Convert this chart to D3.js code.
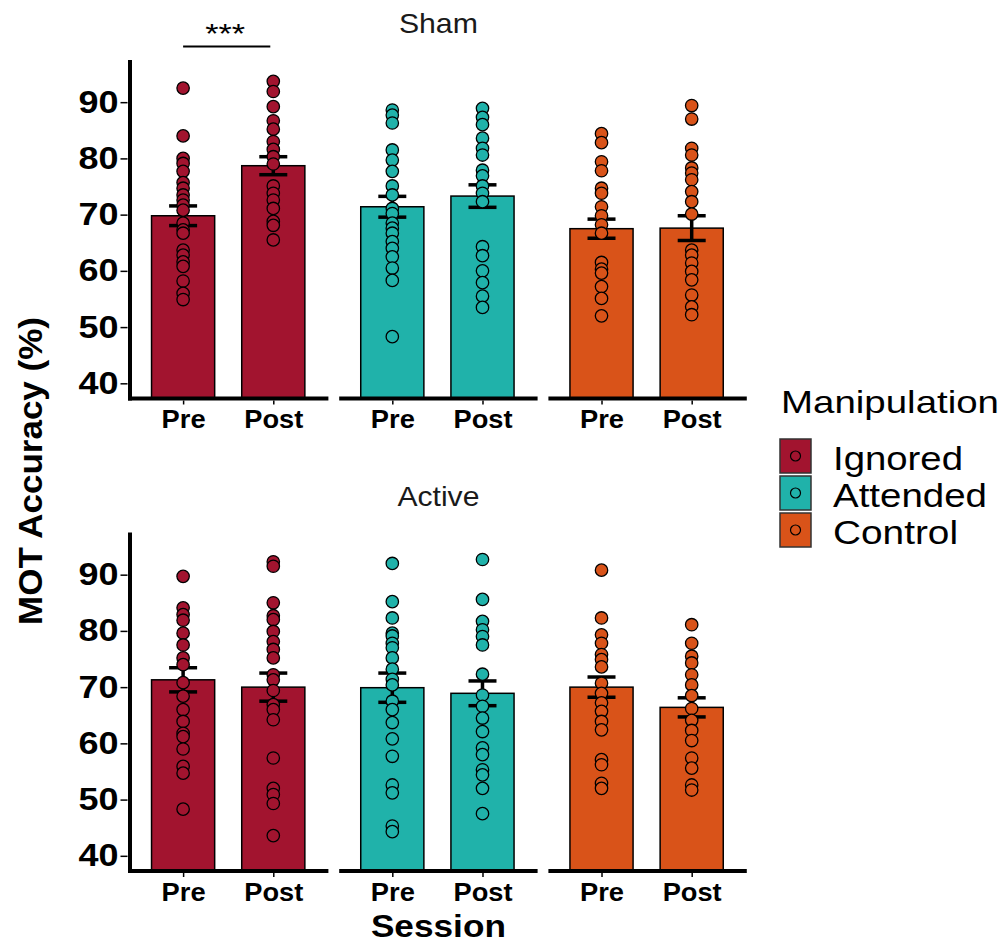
<!DOCTYPE html>
<html>
<head>
<meta charset="utf-8">
<script src="https://cdn.jsdelivr.net/npm/d3@7"></script>
<style>
  html, body { margin: 0; padding: 0; background: #fff; }
  svg { display: block; font-family: "Liberation Sans", Arial, sans-serif; }
</style>
</head>
<body>
<svg id="chart" width="1005" height="943"></svg>
<script>
// ---------------- data ----------------
const conditions = ["Sham", "Active"];
const manipulations = ["Ignored", "Attended", "Control"];
const sessions = ["Pre", "Post"];
const yTicks = [40, 50, 60, 70, 80, 90];
const colors = ["#A2142F", "#20B2AA", "#D95319"];

// bar means and standard errors, order: Ignored Pre/Post, Attended Pre/Post, Control Pre/Post
const shamMeans = [69.8, 78.7, 71.4, 73.3, 67.5, 67.6];
const shamSE = [1.75, 1.6, 1.85, 2.0, 1.7, 2.2];
const activeMeans = [71.3, 70.0, 69.9, 68.9, 70.0, 66.4];
const activeSE = [2.15, 2.5, 2.6, 2.2, 1.8, 1.7];

// individual participants
const shamIgnoredPre = [92.5, 84.0, 80.0, 79.1, 77.7, 75.7, 74.7, 73.5, 72.6, 71.7, 70.8, 68.5, 67.3, 66.7, 63.7, 62.8, 61.6, 60.8, 58.2, 56.0, 54.9];
const shamIgnoredPost = [93.7, 91.9, 89.2, 86.7, 85.2, 83.0, 81.6, 80.3, 79.0, 75.1, 73.8, 72.6, 71.1, 68.8, 68.1, 65.5];
const shamAttendedPre = [88.6, 87.7, 86.3, 81.5, 79.7, 77.7, 75.1, 73.5, 71.1, 70.2, 68.5, 67.6, 66.7, 65.2, 64.0, 62.5, 60.5, 58.3, 48.3];
const shamAttendedPost = [88.9, 87.3, 86.0, 83.6, 81.8, 80.6, 77.9, 76.9, 75.1, 73.8, 72.3, 64.3, 62.7, 60.0, 57.9, 55.5, 53.5];
const shamControlPre = [84.4, 82.8, 79.4, 77.8, 74.7, 73.8, 71.4, 69.8, 68.2, 66.7, 61.5, 60.3, 59.6, 57.2, 55.1, 52.0];
const shamControlPost = [89.4, 87.0, 81.8, 80.6, 78.3, 77.4, 76.2, 74.1, 72.3, 70.1, 63.7, 62.8, 61.4, 59.9, 58.4, 55.7, 53.6, 52.2];
const activeIgnoredPre = [89.7, 84.1, 82.9, 81.9, 79.6, 77.5, 75.2, 74.0, 70.8, 68.4, 66.0, 63.9, 61.8, 61.2, 59.0, 55.9, 54.7, 48.3];
const activeIgnoredPost = [92.3, 91.5, 85.0, 82.7, 82.0, 79.9, 78.1, 76.7, 75.2, 72.2, 71.3, 69.4, 66.9, 66.0, 64.2, 57.4, 52.0, 50.9, 49.3, 43.6];
const activeAttendedPre = [92.0, 85.2, 82.3, 79.6, 79.1, 77.8, 77.0, 75.2, 73.2, 71.4, 70.4, 67.5, 66.0, 63.7, 60.8, 57.7, 52.6, 51.2, 45.3, 44.3];
const activeAttendedPost = [92.7, 85.6, 81.7, 80.2, 79.0, 77.5, 72.3, 68.6, 66.6, 64.5, 62.1, 59.2, 58.0, 55.3, 54.4, 52.0, 47.5];
const activeControlPre = [90.8, 82.3, 79.3, 77.8, 75.8, 74.9, 73.6, 70.7, 68.9, 67.2, 65.7, 63.9, 62.4, 57.1, 56.2, 52.9, 52.0];
const activeControlPost = [81.1, 77.8, 75.5, 74.3, 72.2, 70.4, 68.5, 66.2, 64.1, 62.3, 60.5, 57.4, 55.6, 52.6, 51.7];

const yTitle = "MOT Accuracy (%)";
const xTitle = "Session";
const legendTitle = "Manipulation";
const sigLabel = "***";

// ---------------- assemble ----------------
const pointSets = {
  Sham: [[shamIgnoredPre, shamIgnoredPost], [shamAttendedPre, shamAttendedPost], [shamControlPre, shamControlPost]],
  Active: [[activeIgnoredPre, activeIgnoredPost], [activeAttendedPre, activeAttendedPost], [activeControlPre, activeControlPost]]
};
const meanSets = { Sham: [shamMeans, shamSE], Active: [activeMeans, activeSE] };

// ---------------- layout ----------------
const svg = d3.select("#chart");
const panelW = 198.4;
const panelStarts = [130, 339.2, 548.4];
const rows = [
  { cond: "Sham", top: 60, bottom: 398.5 },
  { cond: "Active", top: 532.5, bottom: 871 }
];
const yDomain = [37.3, 97.5];
const axisW = 4;
const stripCx = (panelStarts[0] + panelStarts[2] + panelW) / 2;

rows.forEach((row, ri) => {
  const y = d3.scaleLinear().domain(yDomain).range([row.bottom, row.top]);
  const [means, ses] = meanSets[row.cond];

  // strip title
  svg.append("text")
    .attr("x", stripCx).attr("y", row.top - 27)
    .attr("text-anchor", "middle")
    .attr("font-size", 28).attr("fill", "#1a1a1a")
    .attr("textLength", row.cond === "Sham" ? 79 : 82)
    .attr("lengthAdjust", "spacingAndGlyphs")
    .text(row.cond);

  manipulations.forEach((m, mi) => {
    const x0 = panelStarts[mi];
    const x = d3.scalePoint().domain(sessions).range([x0 - 1, x0 + panelW - 1]).padding(0.6);
    const step = x.step();
    const bw = step * 0.7;
    const g = svg.append("g");

    const bars = sessions.map((s, si) => ({
      s, mean: means[mi * 2 + si], se: ses[mi * 2 + si], pts: pointSets[row.cond][mi][si]
    }));

    // bars
    g.selectAll("rect.bar").data(bars).join("rect")
      .attr("class", "bar")
      .attr("x", d => x(d.s) - bw / 2)
      .attr("width", bw)
      .attr("y", d => y(d.mean))
      .attr("height", d => y(yDomain[0]) - y(d.mean))
      .attr("fill", colors[mi])
      .attr("stroke", "#000").attr("stroke-width", 1.5);

    // error bars
    const capW = 28;
    bars.forEach(d => {
      const eg = g.append("g").attr("stroke", "#000").attr("stroke-width", 3.5);
      eg.append("line").attr("x1", x(d.s)).attr("x2", x(d.s))
        .attr("y1", y(d.mean - d.se)).attr("y2", y(d.mean + d.se));
      [d.mean - d.se, d.mean + d.se].forEach(v => {
        eg.append("line").attr("x1", x(d.s) - capW / 2).attr("x2", x(d.s) + capW / 2)
          .attr("y1", y(v)).attr("y2", y(v));
      });
    });

    // points
    bars.forEach(d => {
      g.selectAll(null).data(d.pts).join("circle")
        .attr("cx", x(d.s)).attr("cy", v => y(v)).attr("r", 6.2)
        .attr("fill", colors[mi]).attr("stroke", "#000").attr("stroke-width", 1.3);
    });

    // x axis
    const xa = svg.append("g")
      .attr("transform", `translate(0,${row.bottom + axisW / 2})`)
      .call(d3.axisBottom(x).tickSize(4).tickPadding(6));
    xa.select(".domain").remove();
    xa.selectAll(".tick line").attr("stroke", "#000").attr("stroke-width", 1.5);
    xa.selectAll(".tick text")
      .attr("font-family", "Liberation Sans, Arial, sans-serif")
      .attr("font-size", 25).attr("font-weight", "bold").attr("fill", "#000")
      .attr("lengthAdjust", "spacingAndGlyphs")
      .attr("textLength", d => d === "Pre" ? 44 : 59);
    svg.append("line")
      .attr("x1", mi === 0 ? x0 - axisW / 2 : x0).attr("x2", x0 + panelW)
      .attr("y1", row.bottom).attr("y2", row.bottom)
      .attr("stroke", "#000").attr("stroke-width", axisW);

    // significance bracket (Sham / Ignored)
    if (row.cond === "Sham" && mi === 0) {
      svg.append("line")
        .attr("x1", x("Pre")).attr("x2", x("Post") - 3)
        .attr("y1", 46.5).attr("y2", 46.5)
        .attr("stroke", "#000").attr("stroke-width", 2);
      svg.append("text")
        .attr("x", (x("Pre") + x("Post")) / 2 - 3).attr("y", 43)
        .attr("text-anchor", "middle").attr("font-size", 28).attr("fill", "#000")
        .attr("textLength", 40).attr("lengthAdjust", "spacingAndGlyphs")
        .text(sigLabel);
    }
  });

  // y axis
  const ya = svg.append("g")
    .attr("transform", `translate(${panelStarts[0] - axisW / 2 - 0.5},0)`)
    .call(d3.axisLeft(y).tickValues(yTicks).tickSize(7).tickPadding(2));
  ya.select(".domain").remove();
  ya.selectAll(".tick line").attr("stroke", "#000").attr("stroke-width", 1.5);
  ya.selectAll(".tick text")
    .attr("font-family", "Liberation Sans, Arial, sans-serif")
    .attr("font-size", 31).attr("font-weight", "bold").attr("fill", "#000")
    .attr("textLength", 40).attr("lengthAdjust", "spacingAndGlyphs");
  svg.append("line")
    .attr("x1", panelStarts[0]).attr("x2", panelStarts[0])
    .attr("y1", row.top).attr("y2", row.bottom + axisW / 2)
    .attr("stroke", "#000").attr("stroke-width", axisW);
});

// axis titles
svg.append("text")
  .attr("transform", "translate(42,471) rotate(-90)")
  .attr("text-anchor", "middle")
  .attr("font-size", 34).attr("font-weight", "bold").attr("fill", "#000")
  .attr("textLength", 308).attr("lengthAdjust", "spacingAndGlyphs")
  .text(yTitle);
svg.append("text")
  .attr("x", stripCx).attr("y", 937)
  .attr("text-anchor", "middle")
  .attr("font-size", 32).attr("font-weight", "bold").attr("fill", "#000")
  .attr("textLength", 135).attr("lengthAdjust", "spacingAndGlyphs")
  .text(xTitle);

// legend
const lg = svg.append("g");
lg.append("text")
  .attr("x", 781).attr("y", 413)
  .attr("font-size", 32).attr("fill", "#000")
  .attr("textLength", 218).attr("lengthAdjust", "spacingAndGlyphs")
  .text(legendTitle);
const labelWidths = [130, 154, 125];
manipulations.forEach((m, i) => {
  const ky = 439 + i * 37;
  lg.append("rect")
    .attr("x", 780).attr("y", ky).attr("width", 31).attr("height", 34)
    .attr("fill", colors[i]).attr("stroke", "#333").attr("stroke-width", 1.5);
  lg.append("circle")
    .attr("cx", 795.5).attr("cy", ky + 17).attr("r", 5)
    .attr("fill", colors[i]).attr("stroke", "#000").attr("stroke-width", 1.2);
  lg.append("text")
    .attr("x", 833).attr("y", ky + 31)
    .attr("font-size", 34).attr("fill", "#000")
    .attr("textLength", labelWidths[i]).attr("lengthAdjust", "spacingAndGlyphs")
    .text(m);
});
</script>
</body>
</html>
